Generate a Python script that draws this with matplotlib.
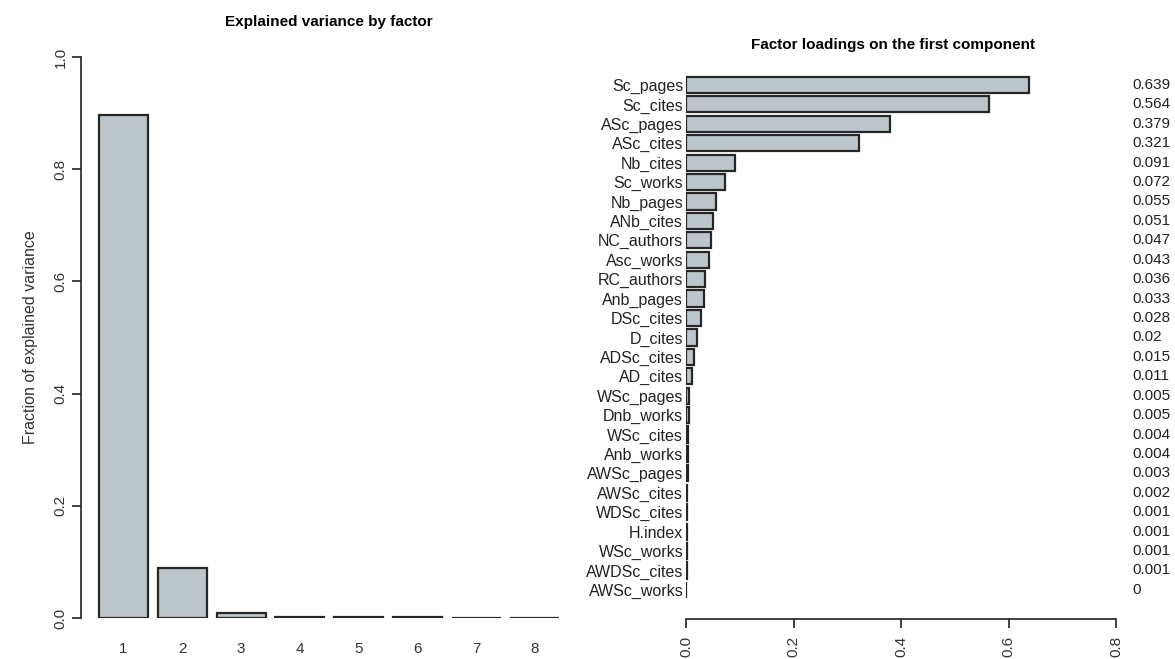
import matplotlib
matplotlib.use("Agg")
import matplotlib.pyplot as plt

plt.rcParams["font.family"] = ["Liberation Sans", "DejaVu Sans"]

# ---- Data ----
factors = ["1", "2", "3", "4", "5", "6", "7", "8"]
explained = [0.897, 0.089, 0.009, 0.0018, 0.0014, 0.001, 0.0008, 0.0006]

var_names = ["Sc_pages", "Sc_cites", "ASc_pages", "ASc_cites", "Nb_cites",
             "Sc_works", "Nb_pages", "ANb_cites", "NC_authors", "Asc_works",
             "RC_authors", "Anb_pages", "DSc_cites", "D_cites", "ADSc_cites",
             "AD_cites", "WSc_pages", "Dnb_works", "WSc_cites", "Anb_works",
             "AWSc_pages", "AWSc_cites", "WDSc_cites", "H.index", "WSc_works",
             "AWDSc_cites", "AWSc_works"]
loadings = [0.639, 0.564, 0.379, 0.321, 0.091, 0.072, 0.055, 0.051, 0.047,
            0.043, 0.036, 0.033, 0.028, 0.02, 0.015, 0.011, 0.005, 0.005,
            0.004, 0.004, 0.003, 0.002, 0.001, 0.001, 0.001, 0.001, 0]

FILL = "#bcc6ca"
EDGE = "#262626"
W, H = 1175, 659

fig = plt.figure(figsize=(W / 100, H / 100), dpi=100)


def px_axes(x0, x1, ytop, ybot):
    return fig.add_axes([x0 / W, 1 - ybot / H, (x1 - x0) / W, (ybot - ytop) / H])


# ---- Left: explained variance ----
ax1 = px_axes(81, 578, 57, 618)
pos = [0.7 + 1.2 * i for i in range(len(factors))]
ax1.bar(pos, explained, width=1.0, color=FILL, edgecolor=EDGE, linewidth=1.6)
ax1.set_xlim(-0.17, 9.98)
ax1.set_ylim(0, 1)
for s in ["top", "right", "bottom"]:
    ax1.spines[s].set_visible(False)
ax1.spines["left"].set_linewidth(1.2)
ax1.spines["left"].set_color("#222222")
ax1.set_yticks([0, 0.2, 0.4, 0.6, 0.8, 1.0])
ax1.set_yticklabels(["0.0", "0.2", "0.4", "0.6", "0.8", "1.0"],
                    rotation=90, va="center")
ax1.tick_params(axis="y", length=6.5, width=1.2, pad=3, labelsize=11,
                colors="#222222", labelcolor="#333333")
ax1.set_xticks(pos)
ax1.set_xticklabels(factors)
ax1.tick_params(axis="x", length=0, pad=17, labelsize=11, labelcolor="#333333")
fig.text(31 / W, 1 - 337 / H, "Fraction of explained variance", rotation=90,
         ha="center", va="center", fontsize=11.5, color="#333333")
fig.text(329 / W, 1 - 22 / H, "Explained variance by factor",
         ha="center", va="center", fontsize=11, fontweight="bold")

# ---- Right: factor loadings ----
ax2 = px_axes(686, 1116, 70, 619)
rows = list(range(len(var_names)))
ax2.barh(rows, loadings, height=0.833, color=FILL, edgecolor=EDGE,
         linewidth=1.6)
ax2.set_xlim(0, 0.8)
ax2.set_ylim(27.5, -0.77)
for s in ["top", "right", "left"]:
    ax2.spines[s].set_visible(False)
ax2.spines["bottom"].set_linewidth(1.2)
ax2.spines["bottom"].set_color("#222222")
ax2.set_xticks([0, 0.2, 0.4, 0.6, 0.8])
ax2.set_xticklabels(["0.0", "0.2", "0.4", "0.6", "0.8"], rotation=90)
ax2.tick_params(axis="x", length=6.5, width=1.2, pad=6, labelsize=11,
                colors="#222222", labelcolor="#333333")
ax2.set_yticks(rows)
ax2.set_yticklabels(var_names)
ax2.tick_params(axis="y", length=0, pad=2, labelsize=11.5, labelcolor="#222222")
for r, v in zip(rows, loadings):
    ax2.text(0.8305, r, f"{v:g}", ha="left", va="center", fontsize=11,
             color="#222222", clip_on=False)
fig.text(893 / W, 1 - 45 / H, "Factor loadings on the first component",
         ha="center", va="center", fontsize=11, fontweight="bold")

fig.savefig("out.png", dpi=100)
